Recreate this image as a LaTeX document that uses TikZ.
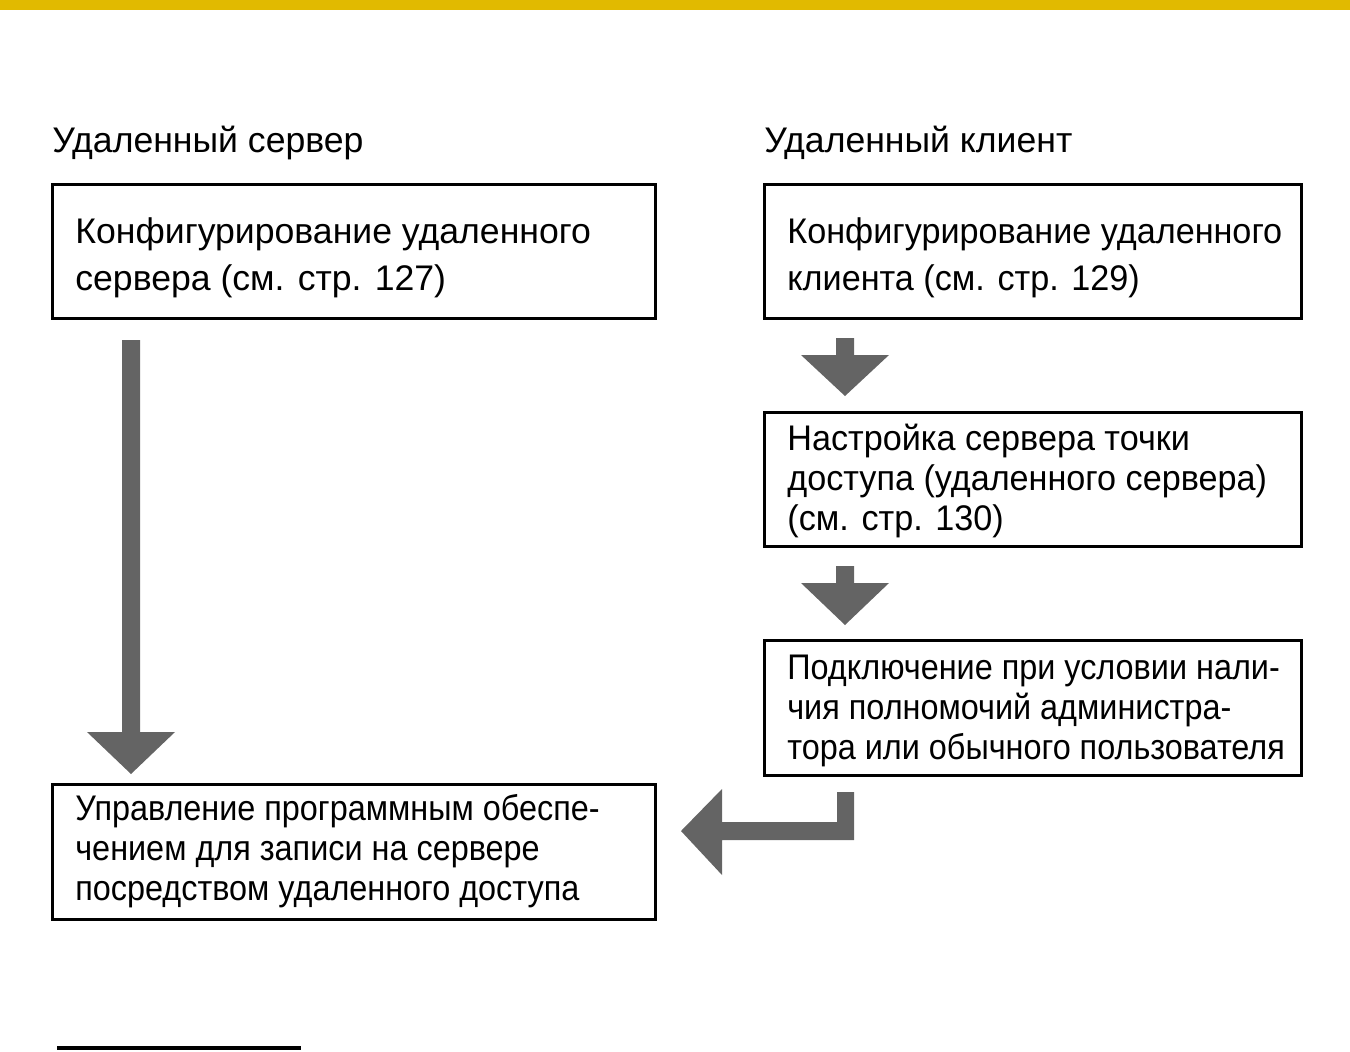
\documentclass[tikz,border=0pt]{standalone}
\usepackage{fontspec}
\setmainfont{Liberation Sans}
\definecolor{topyellow}{RGB}{225,186,0}
\definecolor{agray}{RGB}{100,100,100}
\begin{document}
\begin{tikzpicture}[x=0.5pt,y=-0.5pt,
  box/.style={draw=black,line width=1.5pt},
  txt/.style={anchor=base west,inner sep=0pt,font=\fontsize{17.8}{17.8}\selectfont},
  ctxt/.style={txt,xscale=#1},
  arr/.style={fill=agray,draw=none}]
\useasboundingbox (0,0) rectangle (1350,1051);
\fill[fill=topyellow] (0,0) rectangle (1350,10);
\node[txt] (t1) at (52,152) {Удаленный сервер};
\node[txt] (t2) at (764,152) {Удаленный клиент};
\draw[box] (52,184) rectangle (655,318);
\draw[box] (764,184) rectangle (1301,318);
\draw[box] (764,412) rectangle (1301,546);
\draw[box] (764,640) rectangle (1301,775);
\draw[box] (52,784) rectangle (655,919);
\node[txt] (a1) at (75,243) {Конфигурирование удаленного};
\node[txt] (a2) at (75,290) {сервера (см. стр. 127)};
\node[ctxt=0.96] (b1) at (787,243) {Конфигурирование удаленного};
\node[ctxt=0.96] (b2) at (787,290) {клиента (см. стр. 129)};
\node[ctxt=0.96] (c1) at (787,450) {Настройка сервера точки};
\node[ctxt=0.96] (c2) at (787,490) {доступа (удаленного сервера)};
\node[ctxt=0.96] (c3) at (787,530) {(см. стр. 130)};
\node[ctxt=0.91] (d1) at (787,679) {Подключение при условии нали-};
\node[ctxt=0.91] (d2) at (787,719) {чия полномочий администра-};
\node[ctxt=0.91] (d3) at (787,759) {тора или обычного пользователя};
\node[ctxt=0.91] (e1) at (75,820) {Управление программным обеспе-};
\node[ctxt=0.91] (e2) at (75,860) {чением для записи на сервере};
\node[ctxt=0.91] (e3) at (75,900) {посредством удаленного доступа};
% arrows
\fill[arr] (122,340) -- (140,340) -- (140,732) -- (175,732) -- (131,774) -- (87,732) -- (122,732) -- cycle;
\fill[arr] (836,338) -- (854,338) -- (854,355) -- (889,355) -- (845,396) -- (801,355) -- (836,355) -- cycle;
\fill[arr] (836,566) -- (854,566) -- (854,583) -- (889,583) -- (845,625) -- (801,583) -- (836,583) -- cycle;
\fill[arr] (837,792) -- (854,792) -- (854,840) -- (722,840) -- (722,875) -- (681,831) -- (722,789) -- (722,822) -- (837,822) -- cycle;
\draw[line width=2pt] (57,1048) -- (301,1048);
\end{tikzpicture}
\end{document}
